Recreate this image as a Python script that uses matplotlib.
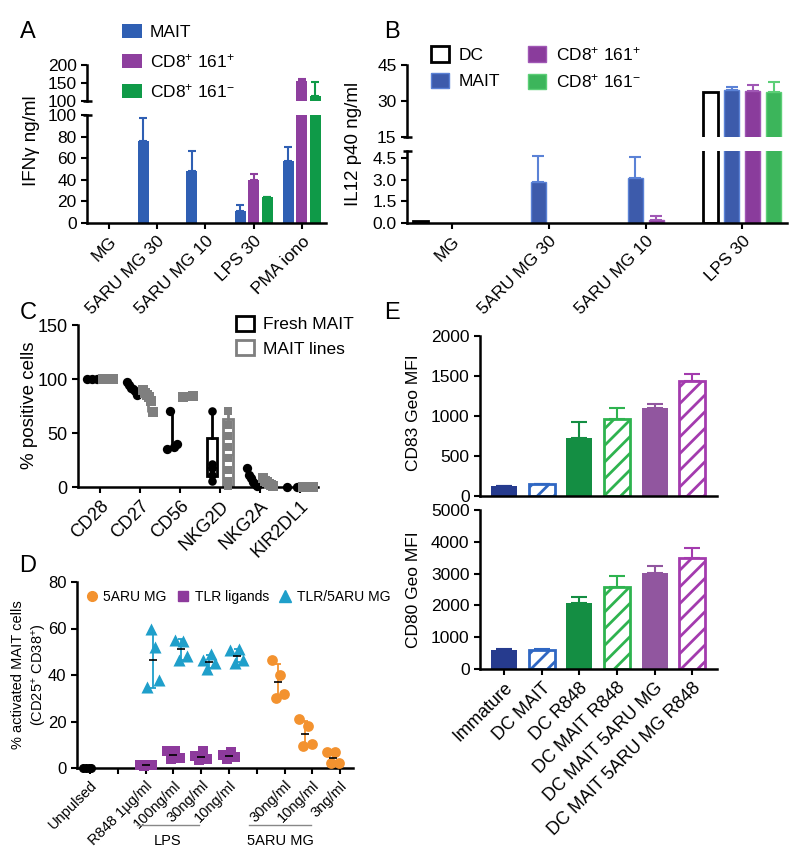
import numpy as np
import matplotlib
matplotlib.use("Agg")
import matplotlib.pyplot as plt
from matplotlib.patches import Patch
from matplotlib.lines import Line2D

plt.rcParams['font.family'] = ['Liberation Sans', 'DejaVu Sans']
plt.rcParams['mathtext.fontset'] = 'custom'
plt.rcParams['mathtext.rm'] = 'Liberation Sans'
plt.rcParams['mathtext.it'] = 'Liberation Sans:italic'
plt.rcParams['mathtext.bf'] = 'Liberation Sans:bold'
plt.rcParams['mathtext.default'] = 'regular'
plt.rcParams['hatch.linewidth'] = 2.0
plt.rcParams['axes.linewidth'] = 1.8
plt.rcParams['xtick.major.width'] = 1.5
plt.rcParams['ytick.major.width'] = 1.5
plt.rcParams['xtick.major.size'] = 4
plt.rcParams['ytick.major.size'] = 4

# ---- data ----
# A: IFNg
a_cats = ["MG", "5ARU MG 30", "5ARU MG 10", "LPS 30", "PMA iono"]
a_mait = [0, 76, 48, 11, 57]
a_mait_err = [0, 21, 19, 6, 13]
a_cd161p = [0, 0, 0, 40, 156]
a_cd161p_err = [0, 0, 0, 5, 6]
a_cd161n = [0, 0, 0, 24, 113]
a_cd161n_err = [0, 0, 0, 0.5, 40]

# B: IL12 p40
b_cats = ["MG", "5ARU MG 30", "5ARU MG 10", "LPS 30"]
b_dc = [0.12, 0, 0, 33.8]
b_dc_err = [0, 0, 0, 0]
b_mait = [0, 2.85, 3.1, 34.6]
b_mait_err = [0, 1.8, 1.5, 1.2]
b_cd161p = [0, 0, 0.2, 34.2]
b_cd161p_err = [0, 0, 0.3, 2.3]
b_cd161n = [0, 0, 0, 33.8]
b_cd161n_err = [0, 0, 0, 4.1]

# C: % positive cells
c_markers = ["CD28", "CD27", "CD56", "NKG2D", "NKG2A", "KIR2DL1"]
c_fresh = [[100, 100, 100], [97, 94, 92, 91, 89, 85], [35, 70, 37, 40],
           [70, 21, 18, 11, 5.5], [18, 11, 8, 5, 3, 1], [0, 0]]
c_lines = [[100, 100, 100, 100, 100], [90, 87, 85, 83, 80, 69], [83, 84],
           [70, 57, 47, 37, 27, 16, 6, 1], [8, 6, 5, 3, 2, 1],
           [0, 0, 0, 0, 0]]
# box stats (min, q1, median, q3, max) read for NKG2D
c_fresh_box = {3: (5.5, 10.5, 18, 45, 70)}
c_lines_box = {3: (0, 1, 30, 63, 70)}

# D: % activated MAIT cells
d_labels = ["Unpulsed", "", "R848 1µg/ml", "100ng/ml", "30ng/ml", "10ng/ml",
            "", "30ng/ml", "10ng/ml", "3ng/ml"]
d_unpulsed = [0, 0, 0, 0]
d_tlr_pos = [2, 3, 4, 5]
d_tlr = [[1.4, 1.0, 1.2, 1.5], [7.1, 3.9, 7.3, 4.4],
         [5.0, 3.3, 7.1, 3.9], [5.7, 3.9, 6.7, 4.7]]
d_combo_pos = [2, 3, 4, 5]
d_combo = [[35, 60, 52, 38], [55, 46.4, 54.7, 48.1],
           [46.4, 42.4, 48.9, 45.3], [50.7, 45.3, 51.1, 46.4]]
d_aru_pos = [7, 8, 9]
d_aru = [[46.5, 30, 40, 32], [21, 9.3, 18, 10.3], [7, 2, 7, 2]]

# E: CD83 / CD80 Geo MFI
e_groups = ["Immature", "DC MAIT", "DC R848", "DC MAIT R848",
            "DC MAIT 5ARU MG", "DC MAIT 5ARU MG R848"]
e_cd83 = [125, 145, 725, 960, 1100, 1440]
e_cd83_err = [5, 5, 195, 140, 55, 85]
e_cd80 = [590, 600, 2060, 2590, 3010, 3480]
e_cd80_err = [50, 20, 200, 340, 215, 320]

# ---- figure ----
W, H = 800, 858
fig = plt.figure(figsize=(W / 100, H / 100), dpi=100)


def axes_px(l, t, r, b):
    return fig.add_axes([l / W, 1 - b / H, (r - l) / W, (b - t) / H])


def clean(ax, bottom=True):
    ax.spines['top'].set_visible(False)
    ax.spines['right'].set_visible(False)
    ax.spines['bottom'].set_visible(bottom)
    ax.tick_params(direction='out', labelsize=12.5)


def break_mark(ax, y, width_px):
    ax.plot([-4 / width_px, 5 / width_px], [y, y], transform=ax.transAxes,
            color='k', lw=1.8, clip_on=False, solid_capstyle='butt')


def bars_with_err(ax, x, vals, errs, color, width, ylim, edge=None, lw=0, cap=3):
    ec = edge if edge else color
    for xi, v, e in zip(x, vals, errs):
        if v <= 0:
            continue
        ax.bar(xi, v, width, color=color, edgecolor=ec, linewidth=lw, zorder=2)
        if e > 0 and ylim[0] < v + e <= ylim[1]:
            ax.errorbar(xi, v, yerr=[[0], [e]], fmt='none', ecolor=ec,
                        elinewidth=1.5, capsize=cap, capthick=1.5, zorder=1)


# ---------- Panel A ----------
a_blue, a_purple, a_green = '#2f5fb3', '#8e3f9e', '#0f9a48'
axAt = axes_px(87, 65, 326, 101)
axA = axes_px(87, 115, 326, 223)
xa = np.arange(len(a_cats))
for ax, lim in ((axAt, (100, 200)), (axA, (0, 100))):
    for off, vals, errs, col in [(-0.28, a_mait, a_mait_err, a_blue),
                                 (0.0, a_cd161p, a_cd161p_err, a_purple),
                                 (0.28, a_cd161n, a_cd161n_err, a_green)]:
        bars_with_err(ax, xa + off, vals, errs, col, 0.23, lim)
    ax.set_xlim(-0.45, 4.5)
    ax.set_ylim(*lim)
axAt.set_yticks([100, 150, 200])
clean(axAt, bottom=False)
axAt.set_xticks([])
break_mark(axAt, 0, 239)
axA.set_yticks([0, 20, 40, 60, 80, 100])
clean(axA)
break_mark(axA, 1, 239)
axA.set_xticks(xa)
axA.set_xticklabels(a_cats, rotation=45, ha='right', rotation_mode='anchor', fontsize=12.5)
fig.text(32 / W, 1 - 141 / H, 'IFNγ ng/ml', rotation=90, ha='center', va='center', fontsize=13.5)
fig.text(28 / W, 1 - 32 / H, 'A', ha='center', va='center', fontsize=17)
fig.legend(handles=[Patch(facecolor=a_blue, label='MAIT'),
                    Patch(facecolor=a_purple, label='CD8$^{+}$ 161$^{+}$'),
                    Patch(facecolor=a_green, label='CD8$^{+}$ 161$^{-}$')],
           loc='upper left', bbox_to_anchor=(122 / W, 1 - 24 / H), frameon=False,
           fontsize=12.5, handlelength=1.15, handleheight=0.9, handletextpad=0.45,
           labelspacing=0.68, borderpad=0, borderaxespad=0)

# ---------- Panel B ----------
b_white, b_blue, b_purple, b_green = 'white', '#3d5bab', '#8a3c9c', '#3cb55b'
b_edges = ['black', '#5b82d6', '#a057b5', '#5ccf77']
axBt = axes_px(407, 65, 787, 137)
axB = axes_px(407, 151, 787, 223)
xb = np.arange(len(b_cats))
sp = 0.217
for ax, lim in ((axBt, (15, 45)), (axB, (0, 5))):
    for k, (vals, errs, col) in enumerate([(b_dc, b_dc_err, b_white), (b_mait, b_mait_err, b_blue),
                                          (b_cd161p, b_cd161p_err, b_purple),
                                          (b_cd161n, b_cd161n_err, b_green)]):
        bars_with_err(ax, xb + (k - 1.5) * sp, vals, errs, col, 0.155, lim,
                      edge=b_edges[k], lw=2 if k == 0 else 1, cap=4)
    ax.set_xlim(-0.465, 3.46)
    ax.set_ylim(*lim)
axBt.set_yticks([15, 30, 45])
clean(axBt, bottom=False)
axBt.set_xticks([])
break_mark(axBt, 0, 380)
axB.set_yticks([0, 1.5, 3.0, 4.5])
axB.set_yticklabels(['0.0', '1.5', '3.0', '4.5'])
clean(axB)
break_mark(axB, 1, 380)
axB.set_xticks(xb)
axB.set_xticklabels(b_cats, rotation=45, ha='right', rotation_mode='anchor', fontsize=12.5)
fig.text(353 / W, 1 - 144 / H, 'IL12 p40 ng/ml', rotation=90, ha='center', va='center', fontsize=13.5)
fig.text(392 / W, 1 - 32 / H, 'B', ha='center', va='center', fontsize=17)
fig.legend(handles=[Patch(facecolor='white', edgecolor='black', lw=2, label='DC'),
                    Patch(facecolor=b_blue, edgecolor=b_edges[1], label='MAIT'),
                    Patch(facecolor=b_purple, edgecolor=b_edges[2], label='CD8$^{+}$ 161$^{+}$'),
                    Patch(facecolor=b_green, edgecolor=b_edges[3], label='CD8$^{+}$ 161$^{-}$')],
           loc='upper left', bbox_to_anchor=(431 / W, 1 - 45 / H), frameon=False, ncol=2,
           fontsize=12.5, handlelength=1.05, handleheight=1.0, handletextpad=0.55,
           labelspacing=0.55, columnspacing=1.6, borderpad=0, borderaxespad=0)

# ---------- Panel C ----------
axC = axes_px(78, 325, 318, 487)
xc = np.arange(len(c_markers))
c_gray = '#7f7f7f'
for off, groups, boxes, col, mk in [(-0.2, c_fresh, c_fresh_box, 'black', 'o'),
                                    (0.2, c_lines, c_lines_box, c_gray, 's')]:
    for i, pts in enumerate(groups):
        cx = xc[i] + off
        if i in boxes:
            lo, q1, med, q3, hi = boxes[i]
            axC.bxp([{'whislo': lo, 'q1': q1, 'med': med, 'q3': q3, 'whishi': hi, 'fliers': []}],
                    positions=[cx], widths=0.27, showcaps=False, patch_artist=True,
                    boxprops=dict(facecolor='white', edgecolor=col, lw=2),
                    whiskerprops=dict(color=col, lw=2), medianprops=dict(color=col, lw=1.5),
                    manage_ticks=False, zorder=2)
            jit = np.zeros(len(pts))
            size = 38
        else:
            jit = np.linspace(-0.12, 0.12, len(pts))
            size = 45
            if max(pts) - min(pts) > 20:
                axC.vlines(cx, min(pts), max(pts), color=col, lw=2, zorder=2)
        axC.scatter(cx + jit, pts, marker=mk, s=size, color=col, zorder=3, clip_on=False,
                    linewidths=0)
axC.set_xlim(-0.55, 5.45)
axC.set_ylim(0, 150)
axC.set_yticks([0, 50, 100, 150])
clean(axC)
axC.tick_params(labelsize=13)
axC.set_xticks(xc)
axC.set_xticklabels(c_markers, rotation=45, ha='right', rotation_mode='anchor', fontsize=13)
fig.text(30 / W, 1 - 405 / H, '% positive cells', rotation=90, ha='center', va='center', fontsize=13.5)
fig.text(28 / W, 1 - 313 / H, 'C', ha='center', va='center', fontsize=17)
fig.legend(handles=[Patch(facecolor='white', edgecolor='black', lw=2, label='Fresh MAIT'),
                    Patch(facecolor='white', edgecolor=c_gray, lw=2, label='MAIT lines')],
           loc='upper left', bbox_to_anchor=(236 / W, 1 - 316 / H), frameon=False,
           fontsize=12.5, handlelength=1.05, handleheight=0.95, handletextpad=0.5,
           labelspacing=0.45, borderpad=0, borderaxespad=0)

# ---------- Panel D ----------
d_orange, d_purple, d_cyan = '#f3922f', '#8d3a9c', '#1f9fca'
axD = axes_px(77, 582, 353, 768)
axD.scatter(0 - 0.1 + np.linspace(-0.15, 0.15, len(d_unpulsed)), d_unpulsed, s=30,
            color='black', zorder=3, clip_on=False)


def d_series(positions, groups, off, col, mk, size):
    for p, pts in zip(positions, groups):
        cx = p + off
        jit = np.linspace(-0.22, 0.22, len(pts))
        axD.scatter(cx + jit, pts, marker=mk, s=size, color=col, zorder=3, clip_on=False,
                    linewidths=0)
        m, sd = np.mean(pts), np.std(pts, ddof=1)
        axD.errorbar(cx, m, yerr=sd, fmt='none', ecolor=col, elinewidth=1.3,
                     capsize=2.5, capthick=1.3, zorder=2)
        axD.plot(cx, m, marker='_', ms=6, mew=1.2, color='black', zorder=4)


d_series(d_aru_pos, d_aru, -0.25, d_orange, 'o', 60)
d_series(d_tlr_pos, d_tlr, 0.0, d_purple, 's', 55)
d_series(d_combo_pos, d_combo, 0.27, d_cyan, '^', 75)
axD.set_xlim(-0.47, 9.46)
axD.set_ylim(0, 80)
axD.set_yticks([0, 20, 40, 60, 80])
clean(axD)
axD.tick_params(labelsize=12)
axD.set_xticks(np.arange(len(d_labels)))
axD.set_xticklabels(d_labels, rotation=45, ha='right', rotation_mode='anchor', fontsize=10.5)
fig.text(30 / W, 1 - 675 / H, '% activated MAIT cells\n(CD25$^{+}$ CD38$^{+}$)', rotation=90,
         ha='center', va='center', fontsize=10.5, linespacing=1.3)
fig.text(28 / W, 1 - 566 / H, 'D', ha='center', va='center', fontsize=17)
fig.add_artist(Line2D([137 / W, 199 / W], [1 - 825 / H] * 2, color='#888888', lw=1))
fig.add_artist(Line2D([249 / W, 311 / W], [1 - 825 / H] * 2, color='#888888', lw=1))
fig.text(168 / W, 1 - 841 / H, 'LPS', ha='center', va='center', fontsize=10.5)
fig.text(280 / W, 1 - 841 / H, '5ARU MG', ha='center', va='center', fontsize=10.5)
axD.legend(handles=[Line2D([], [], ls='none', marker='o', ms=7, color=d_orange, label='5ARU MG'),
                    Line2D([], [], ls='none', marker='s', ms=7, color=d_purple, label='TLR ligands'),
                    Line2D([], [], ls='none', marker='^', ms=8, color=d_cyan, label='TLR/5ARU MG')],
           loc='upper left', bbox_to_anchor=(86 / W, 1 - 590 / H), bbox_transform=fig.transFigure,
           frameon=False, ncol=3, fontsize=10, handlelength=0.8, handletextpad=0.45,
           columnspacing=0.75, borderpad=0, borderaxespad=0)

# ---------- Panel E ----------
e_colors = ['#263b8e', '#2f67c3', '#148e43', '#2eb34f', '#91569f', '#a33bae']
e_hatched = [False, True, False, True, False, True]
xe = np.arange(len(e_groups))
axE1 = axes_px(480, 336, 717, 496)
axE2 = axes_px(480, 510, 717, 669)
for ax, vals, errs in [(axE1, e_cd83, e_cd83_err), (axE2, e_cd80, e_cd80_err)]:
    for i in range(len(xe)):
        if e_hatched[i]:
            ax.bar(xe[i], vals[i], 0.69, facecolor='white', edgecolor=e_colors[i],
                   hatch='//', linewidth=2, zorder=2)
        else:
            ax.bar(xe[i], vals[i], 0.69, color=e_colors[i], zorder=2)
        ax.errorbar(xe[i], vals[i], yerr=[[0], [errs[i]]], fmt='none', ecolor=e_colors[i],
                    elinewidth=1.5, capsize=5.5, capthick=1.5, zorder=1)
    ax.set_xlim(-0.64, 5.66)
    clean(ax)
axE1.set_ylim(0, 2000)
axE1.set_yticks([0, 500, 1000, 1500, 2000])
axE1.set_xticks([])
axE2.set_ylim(0, 5000)
axE2.set_yticks([0, 1000, 2000, 3000, 4000, 5000])
axE2.set_xticks(xe)
axE2.set_xticklabels(e_groups, rotation=45, ha='right', rotation_mode='anchor', fontsize=13)
fig.text(414 / W, 1 - 413 / H, 'CD83 Geo MFI', rotation=90, ha='center', va='center', fontsize=12.5)
fig.text(414 / W, 1 - 590 / H, 'CD80 Geo MFI', rotation=90, ha='center', va='center', fontsize=12.5)
fig.text(392 / W, 1 - 313 / H, 'E', ha='center', va='center', fontsize=17)

fig.savefig('out.png', dpi=100)
